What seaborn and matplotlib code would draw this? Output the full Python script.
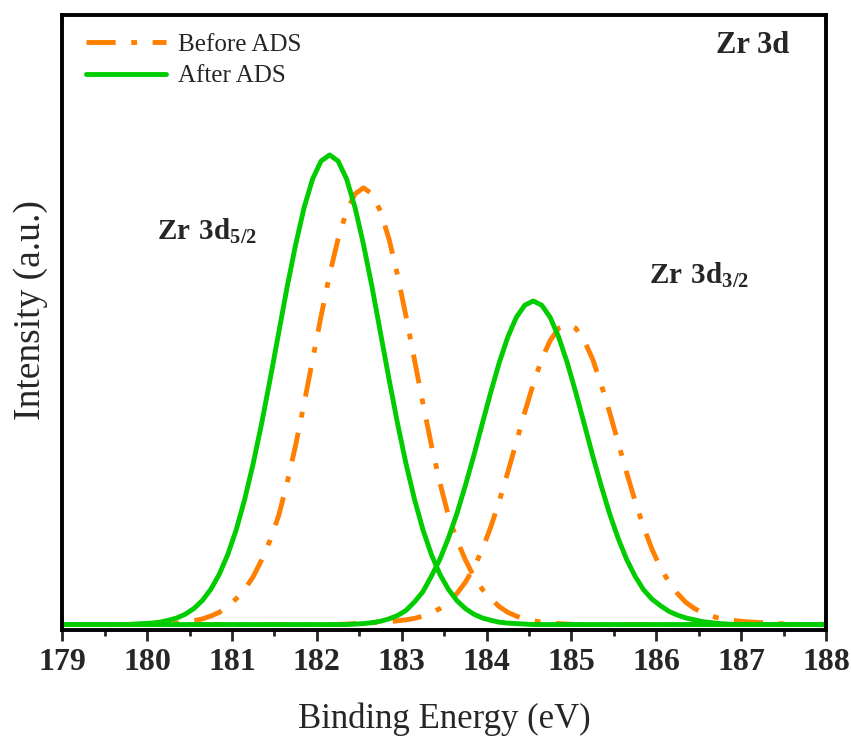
#!/usr/bin/env python3
"""Zr 3d XPS spectra before and after ADS, redrawn with seaborn."""

import matplotlib
matplotlib.use("Agg")
import matplotlib.pyplot as plt
import pandas as pd
import seaborn as sns


# binding energy grid (eV), shared by all four fitted peaks
ENERGY = [
    179.0, 179.05, 179.15, 179.25, 179.35, 179.45, 179.55, 179.65, 179.75, 179.85,
    179.95, 180.05, 180.15, 180.25, 180.35, 180.45, 180.55, 180.65, 180.75, 180.85,
    180.95, 181.05, 181.15, 181.25, 181.35, 181.45, 181.55, 181.65, 181.75, 181.85,
    181.95, 182.05, 182.15, 182.25, 182.35, 182.45, 182.55, 182.65, 182.75, 182.85,
    182.95, 183.05, 183.15, 183.25, 183.35, 183.45, 183.55, 183.65, 183.75, 183.85,
    183.95, 184.05, 184.15, 184.25, 184.35, 184.45, 184.55, 184.65, 184.75, 184.85,
    184.95, 185.05, 185.15, 185.25, 185.35, 185.45, 185.55, 185.65, 185.75, 185.85,
    185.95, 186.05, 186.15, 186.25, 186.35, 186.45, 186.55, 186.65, 186.75, 186.85,
    186.95, 187.05, 187.15, 187.25, 187.35, 187.45, 187.55, 187.65, 187.75, 187.85,
    187.95, 188.0,
]

# Before ADS: Zr 3d5/2 and Zr 3d3/2 components
BEFORE_52 = (
    [0.0] * 12
    + [0.001, 0.002, 0.003, 0.005, 0.008, 0.012, 0.018, 0.026, 0.038, 0.055, 0.075, 0.102,
       0.138, 0.180, 0.232, 0.302, 0.382, 0.471, 0.564, 0.657, 0.745, 0.821, 0.880, 0.917,
       0.930,
       0.917, 0.880, 0.821, 0.745, 0.657, 0.564, 0.471, 0.382, 0.302, 0.232, 0.180, 0.138,
       0.102, 0.075, 0.055, 0.038, 0.026, 0.018, 0.012, 0.008, 0.005, 0.003, 0.002, 0.001]
    + [0.0] * 31
)
BEFORE_32 = (
    [0.0] * 34
    + [0.001, 0.002, 0.003, 0.004, 0.005, 0.006, 0.008, 0.010, 0.013, 0.018, 0.025, 0.034,
       0.047, 0.066, 0.090, 0.121, 0.160, 0.208, 0.263, 0.324, 0.388, 0.452, 0.512, 0.565,
       0.605, 0.631,
       0.640,
       0.631, 0.605, 0.565, 0.512, 0.452, 0.388, 0.324, 0.263, 0.208, 0.160, 0.121, 0.090,
       0.066, 0.047, 0.034, 0.025, 0.018, 0.013, 0.010, 0.008, 0.006, 0.005, 0.004, 0.003,
       0.002, 0.001]
    + [0.0] * 5
)

# After ADS: Zr 3d5/2 and Zr 3d3/2 components
AFTER_52 = (
    [0.0] * 9
    + [0.001, 0.002, 0.003, 0.005, 0.009, 0.014, 0.022, 0.034, 0.051, 0.075, 0.107, 0.149,
       0.202, 0.267, 0.343, 0.429, 0.523, 0.621, 0.719, 0.809, 0.888, 0.949, 0.987,
       1.000,
       0.987, 0.949, 0.888, 0.809, 0.719, 0.621, 0.523, 0.429, 0.343, 0.267, 0.202, 0.149,
       0.107, 0.075, 0.051, 0.034, 0.022, 0.014, 0.009, 0.005, 0.003, 0.002, 0.001]
    + [0.0] * 36
)
AFTER_32 = (
    [0.0] * 33
    + [0.0, 0.0, 0.001, 0.002, 0.004, 0.007, 0.012, 0.019, 0.030, 0.048, 0.070, 0.103,
       0.139, 0.184, 0.236, 0.296, 0.360, 0.428, 0.495, 0.558, 0.612, 0.654, 0.680,
       0.689,
       0.680, 0.654, 0.612, 0.558, 0.495, 0.428, 0.360, 0.296, 0.236, 0.184, 0.139, 0.103,
       0.074, 0.054, 0.040, 0.028, 0.020, 0.014, 0.010, 0.006, 0.004, 0.002, 0.001]
    + [0.0] * 12
)

SAMPLES = ["Before ADS", "After ADS"]
COLORS = {"Before ADS": "#FF7F00", "After ADS": "#00CC00"}
DASHES = {"Before ADS": (6.0, 3.2, 1.2, 3.2), "After ADS": ""}
X_TICKS = [179, 180, 181, 182, 183, 184, 185, 186, 187, 188]
X_MINOR = [179.5, 180.5, 181.5, 182.5, 183.5, 184.5, 185.5, 186.5, 187.5]


def build_frame() -> pd.DataFrame:
    parts = [
        ("Before ADS", "b52", BEFORE_52),
        ("Before ADS", "b32", BEFORE_32),
        ("After ADS", "a52", AFTER_52),
        ("After ADS", "a32", AFTER_32),
    ]
    frames = []
    for sample, peak, values in parts:
        frames.append(pd.DataFrame({"energy": ENERGY, "intensity": values, "sample": sample, "peak": peak}))
    return pd.concat(frames, ignore_index=True)


def main() -> None:
    sns.set_theme(style="ticks")
    plt.rcParams["font.family"] = ["Liberation Serif", "DejaVu Serif"]
    plt.rcParams["mathtext.fontset"] = "custom"
    plt.rcParams["mathtext.rm"] = "Liberation Serif"
    plt.rcParams["mathtext.bf"] = "Liberation Serif:bold"

    data = build_frame()
    fig = plt.figure(figsize=(8.51, 7.38), dpi=100)
    ax = fig.add_axes([0.0732, 0.1463, 0.8974, 0.8334])

    sns.lineplot(
        data=data, x="energy", y="intensity", hue="sample", style="sample", units="peak",
        estimator=None, sort=False, hue_order=SAMPLES, style_order=SAMPLES,
        palette=COLORS, dashes=DASHES, linewidth=3.5, ax=ax,
    )

    handles, labels = ax.get_legend_handles_labels()
    for h in handles:
        h.set_linewidth(3.5)
    ax.legend(
        handles=handles, labels=labels, loc="upper left", bbox_to_anchor=(0.031, 0.970),
        frameon=False, fontsize=18, handlelength=3.2, handletextpad=0.5,
        labelspacing=0.36, borderpad=0, borderaxespad=0,
    )

    ax.set_xlim(179, 188)
    ax.set_ylim(-0.0117, 1.298)
    ax.set_yticks([])
    ax.set_xticks(X_TICKS)
    ax.set_xticks(X_MINOR, minor=True)
    ax.set_xticklabels([str(t) for t in X_TICKS], fontsize=23, fontweight="bold")
    ax.tick_params(axis="x", which="major", direction="out", length=8, width=2.0, pad=5)
    ax.tick_params(axis="x", which="minor", direction="out", length=4, width=2.0)
    for spine in ax.spines.values():
        spine.set_visible(True)
        spine.set_linewidth(2.8)
        spine.set_color("black")

    ax.set_xlabel("Binding Energy (eV)", fontsize=25, labelpad=18)
    ax.set_ylabel("Intensity (a.u.)", fontsize=27)
    ax.yaxis.set_label_coords(-0.019, 0.52)

    ax.text(186.70, 1.218, "Zr 3d", fontsize=22, fontweight="bold", va="baseline")
    ax.text(180.12, 0.819, r"$\mathbf{Zr\ 3d_{5/2}}$", fontsize=21, va="baseline")
    ax.text(185.91, 0.725, r"$\mathbf{Zr\ 3d_{3/2}}$", fontsize=21, va="baseline")

    fig.savefig("out.png", dpi=100, facecolor="white")
    plt.close(fig)


if __name__ == "__main__":
    main()
